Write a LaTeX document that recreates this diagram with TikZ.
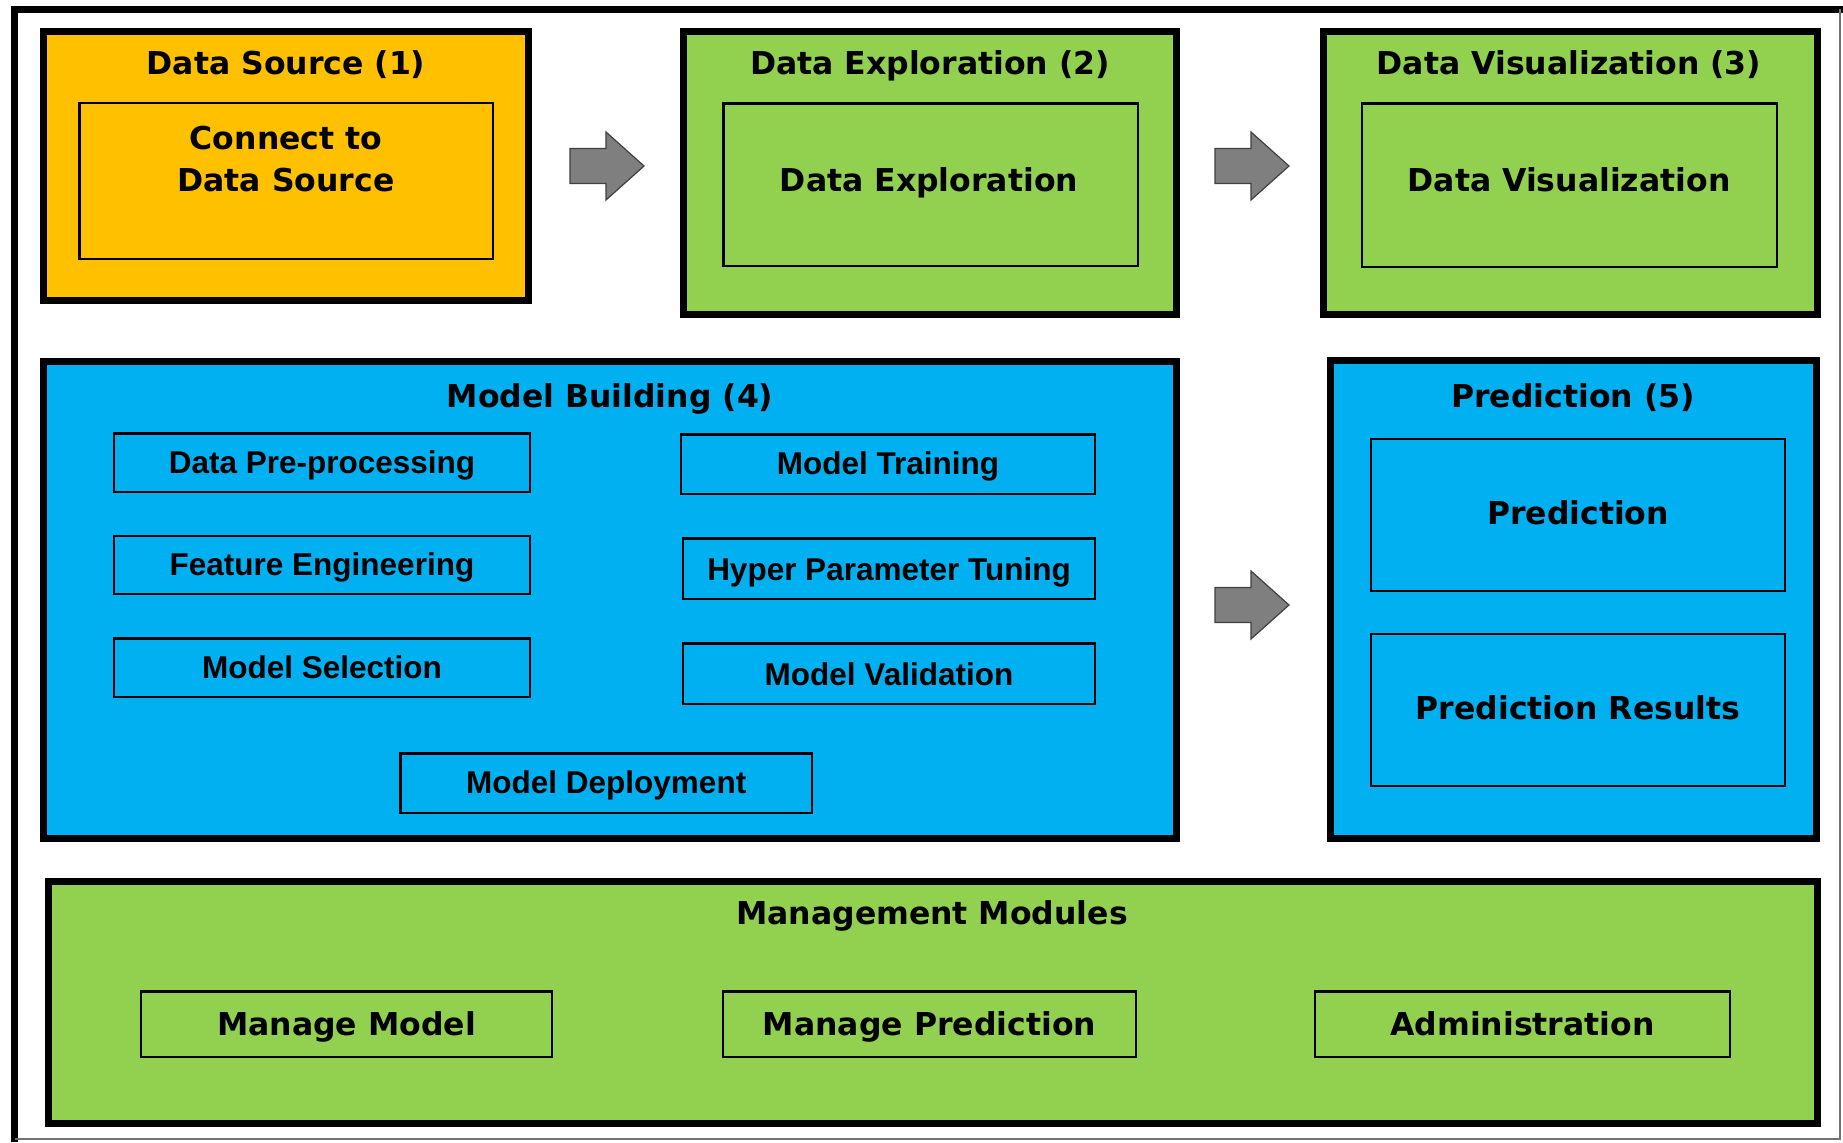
\documentclass[tikz,border=0pt]{standalone}
\usepackage{fontspec}
\setmainfont{Liberation Sans}
\newfontfamily\headfont{DejaVu Sans}
\usetikzlibrary{fit}

\definecolor{srcorange}{HTML}{FFC000}
\definecolor{stagegreen}{HTML}{92D050}
\definecolor{stageblue}{HTML}{00B0F0}
\definecolor{arrowgray}{HTML}{7F7F7F}

\tikzset{
  stage/.style={draw=black, line width=3.5pt, inner sep=0pt, outer sep=0pt},
  panel/.style={draw=black, line width=1.2pt, inner sep=0pt, outer sep=0pt},
  headtext/.style={font=\headfont\bfseries\fontsize{15.75pt}{21pt}\selectfont, inner sep=0pt},
  tasktext/.style={font=\bfseries\fontsize{15.75pt}{19pt}\selectfont, inner sep=0pt},
  headcap/.style={text height=11.45pt, text depth=0pt},
  taskcap/.style={text height=11.3pt, text depth=0pt},
  flowarrow/.pic={
    \draw[fill=arrowgray, draw=black!75, line width=0.6pt, line join=miter]
      (0,-17.5) -- (36,-17.5) -- (36,-34) -- (74,0) -- (36,34)
      -- (36,17.5) -- (0,17.5) -- cycle;
  }
}

\begin{document}
\begin{tikzpicture}[x=0.5pt, y=-0.5pt]
  \useasboundingbox[fill=white] (0,0) rectangle (1843,1142);

  % outer frame
  \draw[line width=3.5pt] (14.5,1142) -- (14.5,9) -- (1843,9);
  \draw[line width=1pt, black!55] (1840,9) -- (1840,1139) -- (14.5,1139);

  % stage 1: data source
  \node[stage, fill=srcorange, fit={(43.5,31.5) (528.5,300.5)}] (ds) {};
  \node[panel, fit={(79.5,103) (493,259)}] (dsIn) {};
  \node[headtext, headcap] (dsT) at (286,63) {Data Source (1)};
  \node[headtext, align=center] (dsTxt) at (286,158.75) {Connect to\\Data Source};

  % stage 2: data exploration
  \node[stage, fill=stagegreen, fit={(683.5,31.5) (1176.5,314.5)}] (de) {};
  \node[panel, fit={(723.5,103.5) (1138,266)}] (deIn) {};
  \node[headtext, headcap] (deT) at (930,63) {Data Exploration (2)};
  \node[headtext, headcap] (deTxt) at (929,180) {Data Exploration};

  % stage 3: data visualization
  \node[stage, fill=stagegreen, fit={(1323.5,31.5) (1817.5,314.5)}] (dv) {};
  \node[panel, fit={(1362,103.5) (1777,267)}] (dvIn) {};
  \node[headtext, headcap] (dvT) at (1569,63) {Data Visualization (3)};
  \node[headtext, headcap] (dvTxt) at (1569,180) {Data Visualization};

  % stage 4: model building
  \node[stage, fill=stageblue, fit={(43.5,361.5) (1176,838.5)}] (mb) {};
  \node[headtext, headcap] (mbT) at (610,396) {Model Building (4)};
  \node[panel, fit={(114,433.5) (530,492)}] (pre) {};
  \node[panel, fit={(114,536) (530,594)}] (feat) {};
  \node[panel, fit={(114,638.5) (530,697)}] (sel) {};
  \node[panel, fit={(681,434.5) (1095,494)}] (train) {};
  \node[panel, fit={(683,538.5) (1095,599)}] (hyper) {};
  \node[panel, fit={(683,643.5) (1095,704)}] (val) {};
  \node[panel, fit={(400.5,753.5) (812,813)}] (deploy) {};
  \node[tasktext, taskcap] (preTxt) at ([yshift=0.5pt]pre.center) {Data Pre-processing};
  \node[tasktext, taskcap] (featTxt) at ([yshift=0.5pt]feat.center) {Feature Engineering};
  \node[tasktext, taskcap] (selTxt) at ([yshift=0.5pt]sel.center) {Model Selection};
  \node[tasktext, taskcap] (trainTxt) at ([yshift=0.5pt]train.center) {Model Training};
  \node[tasktext, taskcap] (hyperTxt) at (hyper.center) {Hyper Parameter Tuning};
  \node[tasktext, taskcap] (valTxt) at (val.center) {Model Validation};
  \node[tasktext, taskcap] (deployTxt) at ([yshift=0.5pt]deploy.center) {Model Deployment};

  % stage 5: prediction
  \node[stage, fill=stageblue, fit={(1330.5,360.5) (1816,838.5)}] (pr) {};
  \node[headtext, headcap] (prT) at (1573,396) {Prediction (5)};
  \node[panel, fit={(1371,439) (1785,591)}] (pred) {};
  \node[panel, fit={(1371,634) (1785,786)}] (res) {};
  \node[headtext, headcap] (predTxt) at ([yshift=1pt]pred.center) {Prediction};
  \node[headtext, headcap] (resTxt) at ([yshift=1pt]res.center) {Prediction Results};

  % management modules
  \node[stage, fill=stagegreen, fit={(48.5,881.5) (1817.5,1123.5)}] (mm) {};
  \node[headtext, headcap] (mmT) at (932,913) {Management Modules};
  \node[panel, fit={(141,991.5) (552,1057)}] (mgModel) {};
  \node[panel, fit={(723,991.5) (1136,1057)}] (mgPred) {};
  \node[panel, fit={(1315,991.5) (1730,1057)}] (admin) {};
  \node[headtext, headcap] (mgModelTxt) at (mgModel.center) {Manage Model};
  \node[headtext, headcap] (mgPredTxt) at (mgPred.center) {Manage Prediction};
  \node[headtext, headcap] (adminTxt) at (admin.center) {Administration};

  % flow arrows between the stages
  \coordinate (a1) at (570,166);
  \coordinate (a2) at (1215,166);
  \coordinate (a3) at (1215,605);
  \path (a1) pic {flowarrow};
  \path (a2) pic {flowarrow};
  \path (a3) pic {flowarrow};
\end{tikzpicture}
\end{document}
